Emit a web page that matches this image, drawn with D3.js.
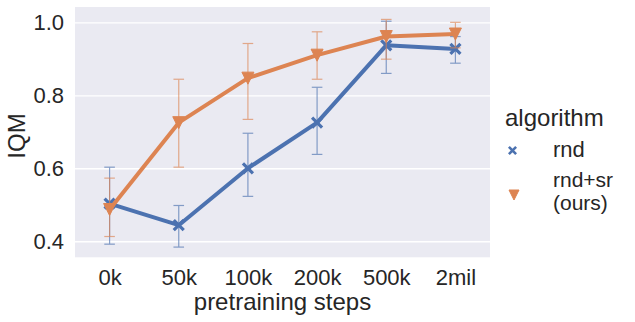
<!DOCTYPE html>
<html>
<head>
  <meta charset="utf-8">
  <title>IQM vs pretraining steps</title>
  <script src="https://d3js.org/d3.v7.min.js"></script>
  <style>
    body { margin: 0; background: #fff; }
    text { font-family: "Liberation Sans", Arial, sans-serif; fill: #262626; }
  </style>
</head>
<body>
<script>
// categories on the x axis
var steps = ["0k", "50k", "100k", "200k", "500k", "2mil"];
var yTicks = [0.4, 0.6, 0.8, 1.0];

// rnd: mean and confidence interval
var rndMean = [0.503, 0.444, 0.600, 0.725, 0.937, 0.927];
var rndLo   = [0.392, 0.384, 0.523, 0.638, 0.860, 0.888];
var rndHi   = [0.603, 0.498, 0.696, 0.822, 1.003, 0.961];

// rnd+sr (ours)
var srMean = [0.487, 0.725, 0.847, 0.910, 0.961, 0.968];
var srLo   = [0.413, 0.603, 0.734, 0.844, 0.899, 0.930];
var srHi   = [0.573, 0.844, 0.942, 0.974, 1.008, 1.000];

var series = [
  {name: "rnd", color: "#4C72B0", marker: "x", mean: rndMean, lo: rndLo, hi: rndHi},
  {name: "rnd+sr", color: "#DD8452", marker: "v", mean: srMean, lo: srLo, hi: srHi}
];

var W = 635, H = 322;
var plot = {left: 75, right: 490, top: 7, bottom: 257.3};

var svg = d3.select("body").append("svg")
    .attr("width", W)
    .attr("height", H);

var x = d3.scalePoint()
    .domain(steps)
    .range([plot.left, plot.right])
    .padding(0.5);

var y = d3.scaleLinear()
    .domain([0.356, 1.042])
    .range([plot.bottom, plot.top]);

// background
svg.append("rect")
    .attr("x", plot.left).attr("y", plot.top)
    .attr("width", plot.right - plot.left)
    .attr("height", plot.bottom - plot.top)
    .attr("fill", "#EAEAF2");

// grid + y tick labels
var yAxis = d3.axisLeft(y).tickValues(yTicks).tickFormat(d3.format(".1f"))
    .tickSize(-(plot.right - plot.left)).tickPadding(11);
var gy = svg.append("g").attr("transform", "translate(" + plot.left + ",0)").call(yAxis);
gy.select(".domain").remove();
gy.selectAll("line").attr("stroke", "#fff").attr("stroke-width", 1.3);
gy.selectAll("text").attr("font-size", 22).attr("fill", "#262626")
    .attr("font-family", "Liberation Sans, Arial, sans-serif");

var xAxis = d3.axisBottom(x).tickSize(0).tickPadding(12);
var gx = svg.append("g").attr("transform", "translate(0," + plot.bottom + ")").call(xAxis);
gx.select(".domain").remove();
gx.selectAll("text").attr("font-size", 22).attr("fill", "#262626")
    .attr("font-family", "Liberation Sans, Arial, sans-serif");

// axis labels
svg.append("text")
    .attr("x", (plot.left + plot.right) / 2).attr("y", 310)
    .attr("text-anchor", "middle").attr("font-size", 24)
    .text("pretraining steps");

svg.append("text")
    .attr("transform", "translate(25,136) rotate(-90)")
    .attr("text-anchor", "middle").attr("font-size", 24)
    .text("IQM");

// marker shapes
function markerPath(type, s) {
  if (type === "x") {
    return "M" + (-s) + "," + (-s) + "L" + s + "," + s + "M" + (-s) + "," + s + "L" + s + "," + (-s);
  }
  // downward triangle
  return "M" + (-s) + "," + (-s) + "L" + s + "," + (-s) + "L0," + s + "Z";
}

function drawMarker(g, type, color, cx, cy, s, sw) {
  var p = g.append("path")
      .attr("transform", "translate(" + cx + "," + cy + ")")
      .attr("d", markerPath(type, s));
  if (type === "x") {
    p.attr("fill", "none").attr("stroke", color).attr("stroke-width", sw);
  } else {
    p.attr("fill", color).attr("stroke", color).attr("stroke-width", 1);
  }
}

var line = d3.line()
    .x(function(d, i) { return x(steps[i]); })
    .y(function(d) { return y(d); });

series.forEach(function(s) {
  var g = svg.append("g");
  g.append("path")
      .attr("d", line(s.mean))
      .attr("fill", "none")
      .attr("stroke", s.color)
      .attr("stroke-width", 4)
      .attr("stroke-linejoin", "round");

  // error bars
  var eb = g.append("g").attr("stroke", s.color).attr("stroke-width", 1.2).attr("opacity", 0.65);
  steps.forEach(function(c, i) {
    var cx = x(c);
    eb.append("line").attr("x1", cx).attr("x2", cx).attr("y1", y(s.lo[i])).attr("y2", y(s.hi[i]));
    eb.append("line").attr("x1", cx - 5.3).attr("x2", cx + 5.3).attr("y1", y(s.lo[i])).attr("y2", y(s.lo[i]));
    eb.append("line").attr("x1", cx - 5.3).attr("x2", cx + 5.3).attr("y1", y(s.hi[i])).attr("y2", y(s.hi[i]));
  });

  steps.forEach(function(c, i) {
    drawMarker(g, s.marker, s.color, x(c), y(s.mean[i]), s.marker === "x" ? 5 : 6, 3.2);
  });
});

// legend
var leg = svg.append("g");
leg.append("text").attr("x", 505).attr("y", 126).attr("font-size", 24).text("algorithm");

drawMarker(leg, "x", series[0].color, 512.5, 150.5, 3.6, 2.6);
leg.append("text").attr("x", 553).attr("y", 157).attr("font-size", 22).text("rnd");

drawMarker(leg, "v", series[1].color, 514, 195, 5, 1);
leg.append("text").attr("x", 553).attr("y", 186.5).attr("font-size", 21).text("rnd+sr");
leg.append("text").attr("x", 553).attr("y", 210).attr("font-size", 21).text("(ours)");
</script>
</body>
</html>
